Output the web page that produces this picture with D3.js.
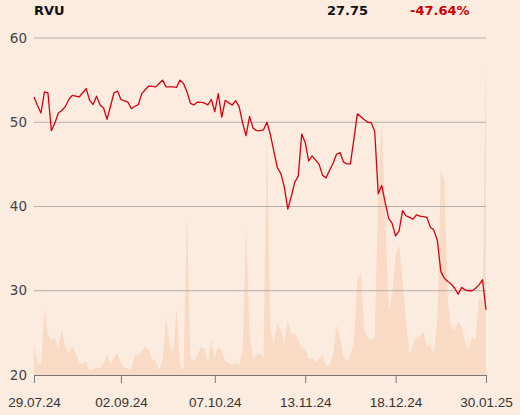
<!DOCTYPE html>
<html>
<head>
<meta charset="utf-8">
<script src="https://cdn.jsdelivr.net/npm/d3@7"></script>
<style>
  body { margin: 0; background: #fcece0; }
  svg { display: block; font-family: "DejaVu Sans", sans-serif; }
  .axis path, .axis line { stroke: #777; }
  .axis text { fill: #333; font-size: 13.5px; }
</style>
</head>
<body>
<script>
// header
var symbol = "RVU",
    lastPrice = "27.75",
    change = "-47.64%";

// daily close, one value per trading day
var prices = [
  53.0, 52.0, 51.1, 53.6, 53.5, 49.0, 49.9, 51.1, 51.4, 51.85,
  52.7, 53.2, 53.1, 53.0, 53.5, 54.0, 52.6, 52.1, 53.1, 52.05,
  51.7, 50.35, 51.9, 53.5, 53.7, 52.7, 52.55, 52.4, 51.6, 51.9,
  52.1, 53.4, 53.85, 54.3, 54.25, 54.2, 54.6, 55.0, 54.2, 54.2,
  54.2, 54.15, 55.0, 54.6, 53.6, 52.25, 52.05, 52.4, 52.35, 52.3,
  52.05, 52.7, 51.25, 53.4, 50.6, 52.6, 52.3, 52.05, 52.55, 51.85,
  49.9, 48.4, 50.7, 49.3, 49.0, 49.0, 49.1, 50.0, 48.5, 46.5,
  44.6, 43.9, 42.3, 39.7, 41.2, 42.9, 43.6, 48.6, 47.6, 45.4,
  46.0, 45.5, 45.0, 43.7, 43.4, 44.3, 45.1, 46.2, 46.4, 45.3,
  45.05, 45.05, 48.0, 51.0, 50.65, 50.3, 50.0, 49.95, 48.9, 41.5,
  42.5, 40.5, 38.6, 38.0, 36.5, 37.1, 39.5, 38.9, 38.7, 38.5,
  39.0, 38.85, 38.8, 38.7, 37.55, 37.2, 36.0, 32.3, 31.5, 31.1,
  30.8, 30.3, 29.6, 30.4, 30.1, 30.0, 30.0, 30.3, 30.7, 31.3,
  27.75
];

// traded volume (thousands), same days
var volumes = [
  30, 12, 10, 66, 40, 35, 37, 27, 46, 28,
  22, 29, 22, 12, 11, 14, 4, 6, 7, 7,
  12, 20, 11, 17, 22, 12, 7, 7, 5, 20,
  19, 24, 28, 25, 16, 14, 5, 15, 58, 30,
  23, 66, 10, 5, 163, 17, 14, 20, 28, 26,
  12, 35, 18, 28, 25, 13, 12, 10, 12, 10,
  25, 150, 40, 17, 20, 22, 17, 240, 45, 33,
  52, 45, 30, 55, 40, 42, 35, 27, 26, 16,
  17, 12, 17, 20, 9, 10, 19, 50, 38, 19,
  13, 20, 33, 95, 102, 45, 38, 35, 38, 180,
  255, 160, 63, 80, 120, 130, 95, 55, 20, 30,
  38, 39, 43, 28, 30, 22, 55, 205, 195, 75,
  48, 45, 54, 48, 32, 24, 38, 35, 78, 73,
  319
];

// x ticks (index into the daily series) and their labels
var tickIndex = [0, 25, 52, 78, 104, 130];
var tickLabels = ["29.07.24", "02.09.24", "07.10.24", "13.11.24", "18.12.24", "30.01.25"];
var yTicks = [20, 30, 40, 50, 60];

var margin = {top: 38, right: 34, bottom: 40, left: 34},
    width = 520 - margin.left - margin.right,
    height = 415 - margin.top - margin.bottom;

var svg = d3.select("body")
    .append("svg")
    .attr("width", width + margin.left + margin.right)
    .attr("height", height + margin.top + margin.bottom);

svg.append("rect")
    .attr("width", 520).attr("height", 415)
    .attr("fill", "#fcece0");

var g = svg.append("g")
    .attr("transform", "translate(" + margin.left + "," + margin.top + ")");

var xScale = d3.scaleLinear().domain([0, prices.length - 1]).range([0, width]),
    yScale = d3.scaleLinear().domain([20, 60]).range([height, 0]),
    vScale = d3.scaleLinear().domain([0, 337]).range([height, 0]);

// volume area behind everything
var area = d3.area()
    .x(function(d, i) { return xScale(i); })
    .y0(height)
    .y1(function(d) { return vScale(d); });

g.append("path")
    .datum(volumes)
    .attr("d", area)
    .attr("fill", "#f8dac5");

// horizontal grid
g.selectAll(".grid")
    .data(yTicks.slice(1))
    .enter().append("line")
    .attr("class", "grid")
    .attr("x1", 0).attr("x2", width)
    .attr("y1", function(d) { return yScale(d); })
    .attr("y2", function(d) { return yScale(d); })
    .attr("stroke", "#b4aea9")
    .attr("stroke-width", 1);

// y labels, no axis line
g.selectAll(".ylab")
    .data(yTicks)
    .enter().append("text")
    .attr("class", "ylab")
    .attr("x", -7)
    .attr("y", function(d) { return yScale(d); })
    .attr("dy", "0.35em")
    .attr("text-anchor", "end")
    .attr("fill", "#444")
    .style("font-size", "13.5px")
    .text(function(d) { return d; });

// x axis
g.append("g")
    .attr("class", "axis")
    .attr("transform", "translate(0," + height + ")")
    .call(d3.axisBottom(xScale)
        .tickValues(tickIndex)
        .tickFormat(function(d, i) { return tickLabels[i]; })
        .tickSize(8)
        .tickPadding(14)
        .tickSizeOuter(0));

g.select(".axis .domain").attr("stroke", "#999");

// price line
var line = d3.line()
    .x(function(d, i) { return xScale(i); })
    .y(function(d) { return yScale(d); });

g.append("path")
    .datum(prices)
    .attr("d", line)
    .attr("fill", "none")
    .attr("stroke", "#d6000e")
    .attr("stroke-width", 1.3)
    .attr("stroke-linejoin", "round");

// header
svg.append("text").attr("x", 34).attr("y", 14.5)
    .style("font-size", "13px").style("font-weight", "bold")
    .attr("fill", "#111").text(symbol);
svg.append("text").attr("x", 327).attr("y", 14.5)
    .style("font-size", "13px").style("font-weight", "bold")
    .attr("fill", "#111").text(lastPrice);
svg.append("text").attr("x", 410).attr("y", 14.5)
    .style("font-size", "13px").style("font-weight", "bold")
    .attr("fill", "#cc0000").text(change);
</script>
</body>
</html>
